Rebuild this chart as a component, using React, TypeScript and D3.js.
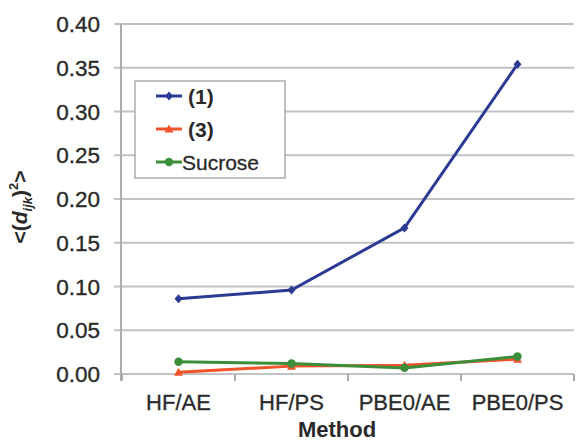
import React from 'react';
import * as d3 from 'd3';

const methods = ['HF/AE', 'HF/PS', 'PBE0/AE', 'PBE0/PS'];
const compound1 = [0.086, 0.096, 0.167, 0.354];
const compound3 = [0.002, 0.009, 0.010, 0.017];
const sucrose = [0.014, 0.012, 0.007, 0.020];
const yTicks = [0, 0.05, 0.1, 0.15, 0.2, 0.25, 0.3, 0.35, 0.4];

const W = 576;
const H = 444;
const FONT = 'Liberation Sans, Arial, sans-serif';
const TEXT = '#2a2a2a';

const series = [
  { name: '(1)', values: compound1, color: '#2b3a92', marker: 'diamond', bold: true },
  { name: '(3)', values: compound3, color: '#f0522a', marker: 'triangle', bold: true },
  { name: 'Sucrose', values: sucrose, color: '#3b8f3b', marker: 'circle', bold: false },
];

const Marker = ({ type, x, y, color }: { type: string; x: number; y: number; color: string }) => {
  if (type === 'diamond') {
    return <path d={`M${x},${y - 4.5}L${x + 4},${y}L${x},${y + 4.5}L${x - 4},${y}Z`} fill={color} />;
  }
  if (type === 'triangle') {
    return <path d={`M${x},${y - 4.5}L${x + 4.5},${y + 3.5}L${x - 4.5},${y + 3.5}Z`} fill={color} />;
  }
  return <circle cx={x} cy={y} r={4.2} fill={color} />;
};

export default function App() {
  const x = d3.scaleBand().domain(methods).range([122, 574]);
  const y = d3.scaleLinear().domain([0, 0.4]).range([374, 24]);
  const cx = (m: string) => (x(m) as number) + x.bandwidth() / 2;
  const line = d3.line<number>().x((_, i) => cx(methods[i])).y(d => y(d));
  const boundaries = [...methods.map(m => x(m) as number), 574];

  return (
    <svg width={W} height={H} style={{ position: 'absolute', left: 0, top: 0, background: '#fff' }} fontFamily={FONT}>
      {/* grid + y ticks */}
      {yTicks.map(t => (
        <g key={t}>
          <line x1={114} x2={574} y1={y(t)} y2={y(t)} stroke="#c0c2c5" strokeWidth={2} />
          <text x={100} y={y(t) + 8} textAnchor="end" fontSize={22.5} fill={TEXT} stroke={TEXT} strokeWidth={0.35}>
            {t.toFixed(2)}
          </text>
        </g>
      ))}
      <line x1={121} x2={121} y1={y(0.4)} y2={381} stroke="#a9acb0" strokeWidth={2} />
      {boundaries.map((b, i) => (
        <line key={i} x1={b} x2={b} y1={374} y2={381} stroke="#a9acb0" strokeWidth={2} />
      ))}
      {methods.map(m => (
        <text key={m} x={cx(m)} y={410} textAnchor="middle" fontSize={22} fill={TEXT} stroke={TEXT} strokeWidth={0.3}>
          {m}
        </text>
      ))}
      <text x={337} y={437} textAnchor="middle" fontSize={22} fontWeight="bold" fill={TEXT}>
        Method
      </text>
      <text transform="translate(27,207) rotate(-90)" textAnchor="middle" fontSize={21} fontWeight="bold" fill={TEXT}>
        {'<('}
        <tspan fontStyle="italic">d</tspan>
        <tspan fontStyle="italic" fontSize={13} dy={5}>ijk</tspan>
        <tspan dy={-5}>)</tspan>
        <tspan fontSize={13} dy={-9}>2</tspan>
        <tspan dy={9}>{'>'}</tspan>
      </text>

      {/* series */}
      {series.map(s => (
        <g key={s.name}>
          <path d={line(s.values) || ''} fill="none" stroke={s.color} strokeWidth={3} />
          {s.values.map((v, i) => (
            <Marker key={i} type={s.marker} x={cx(methods[i])} y={y(v)} color={s.color} />
          ))}
        </g>
      ))}

      {/* legend */}
      <rect x={135} y={81} width={150} height={97} fill="#fff" stroke="#a9acb0" strokeWidth={1.5} />
      {series.map((s, i) => {
        const ly = 96 + i * 33;
        return (
          <g key={s.name}>
            <line x1={156} x2={182} y1={ly} y2={ly} stroke={s.color} strokeWidth={3} />
            <Marker type={s.marker} x={169} y={ly} color={s.color} />
            <text
              x={s.bold ? 188 : 182}
              y={ly + 7.5}
              fontSize={21}
              fontWeight={s.bold ? 'bold' : 'normal'}
              fill={TEXT}
              stroke={s.bold ? 'none' : TEXT}
              strokeWidth={0.3}
            >
              {s.name}
            </text>
          </g>
        );
      })}
    </svg>
  );
}
